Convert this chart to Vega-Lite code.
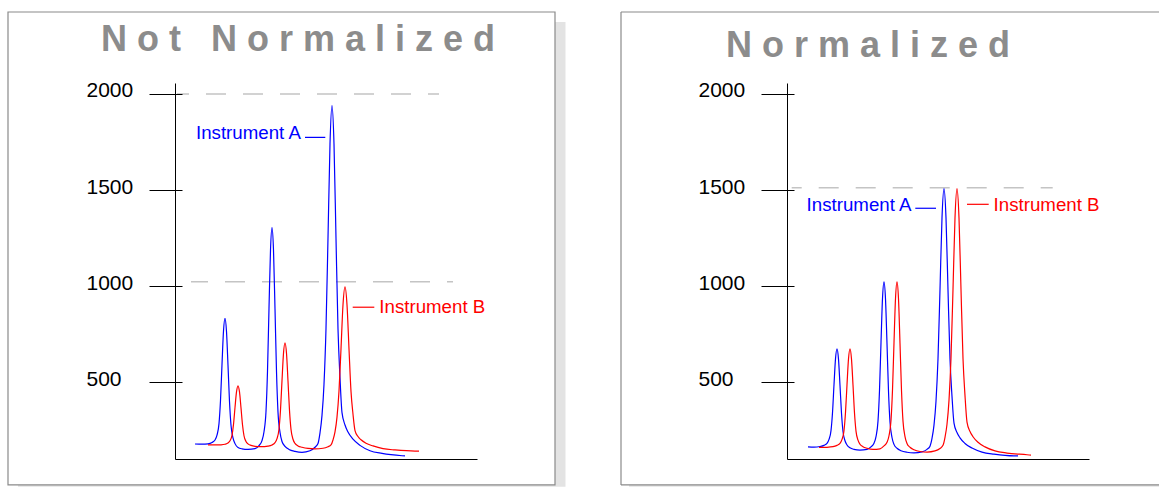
{
  "$schema": "https://vega.github.io/schema/vega-lite/v6.json",
  "padding": {"left": 7, "top": 11, "right": 0, "bottom": 0},
  "background": "white",
  "spacing": 310,
  "bounds": "flush",
  "config": {"view": {"stroke": null}, "font": "Liberation Sans"},
  "datasets": {
    "raw": [
      {"instrument":"A","time":20,"signal":178},{"instrument":"A","time":27,"signal":177},{"instrument":"A","time":33,"signal":179},{"instrument":"A","time":37,"signal":186},{"instrument":"A","time":40,"signal":199},{"instrument":"A","time":42,"signal":224},{"instrument":"A","time":44,"signal":284},{"instrument":"A","time":45.5,"signal":404},{"instrument":"A","time":47,"signal":592},{"instrument":"A","time":48.5,"signal":766},{"instrument":"A","time":50,"signal":832},{"instrument":"A","time":51.5,"signal":764},{"instrument":"A","time":53,"signal":588},{"instrument":"A","time":54.5,"signal":399},{"instrument":"A","time":56,"signal":276},{"instrument":"A","time":58,"signal":210},{"instrument":"A","time":60,"signal":180},{"instrument":"A","time":63,"signal":160},{"instrument":"A","time":67,"signal":153},{"instrument":"A","time":73,"signal":150},{"instrument":"A","time":80,"signal":154},{"instrument":"A","time":84,"signal":170},{"instrument":"A","time":87,"signal":196},{"instrument":"A","time":89,"signal":242},{"instrument":"A","time":91,"signal":347},{"instrument":"A","time":92.5,"signal":557},{"instrument":"A","time":94,"signal":884},{"instrument":"A","time":95.5,"signal":1187},{"instrument":"A","time":97,"signal":1304},{"instrument":"A","time":98.5,"signal":1187},{"instrument":"A","time":100,"signal":882},{"instrument":"A","time":101.5,"signal":555},{"instrument":"A","time":103,"signal":344},{"instrument":"A","time":105,"signal":239},{"instrument":"A","time":107,"signal":191},{"instrument":"A","time":110,"signal":166},{"instrument":"A","time":114,"signal":150},{"instrument":"A","time":120,"signal":140},{"instrument":"A","time":127,"signal":135},{"instrument":"A","time":135,"signal":143},{"instrument":"A","time":140,"signal":161},{"instrument":"A","time":143,"signal":181},{"instrument":"A","time":145,"signal":236},{"instrument":"A","time":147,"signal":327},{"instrument":"A","time":149,"signal":489},{"instrument":"A","time":151,"signal":779},{"instrument":"A","time":153,"signal":1251},{"instrument":"A","time":155,"signal":1739},{"instrument":"A","time":157,"signal":1939},{"instrument":"A","time":159,"signal":1739},{"instrument":"A","time":161,"signal":1249},{"instrument":"A","time":163,"signal":777},{"instrument":"A","time":165,"signal":523},{"instrument":"A","time":167,"signal":341},{"instrument":"A","time":170,"signal":277},{"instrument":"A","time":173,"signal":240},{"instrument":"A","time":178,"signal":203},{"instrument":"A","time":185,"signal":171},{"instrument":"A","time":195,"signal":143},{"instrument":"A","time":207,"signal":129},{"instrument":"A","time":227,"signal":117},{"instrument":"A","time":230,"signal":116},
      {"instrument":"B","time":33,"signal":174},{"instrument":"B","time":40,"signal":173},{"instrument":"B","time":46,"signal":174},{"instrument":"B","time":50,"signal":177},{"instrument":"B","time":53,"signal":183},{"instrument":"B","time":55,"signal":195},{"instrument":"B","time":57,"signal":223},{"instrument":"B","time":58.5,"signal":280},{"instrument":"B","time":60,"signal":368},{"instrument":"B","time":61.5,"signal":449},{"instrument":"B","time":63,"signal":481},{"instrument":"B","time":64.5,"signal":449},{"instrument":"B","time":66,"signal":366},{"instrument":"B","time":67.5,"signal":278},{"instrument":"B","time":69,"signal":221},{"instrument":"B","time":71,"signal":191},{"instrument":"B","time":73,"signal":179},{"instrument":"B","time":76,"signal":171},{"instrument":"B","time":80,"signal":166},{"instrument":"B","time":86,"signal":164},{"instrument":"B","time":93,"signal":167},{"instrument":"B","time":97,"signal":173},{"instrument":"B","time":100,"signal":185},{"instrument":"B","time":102,"signal":206},{"instrument":"B","time":104,"signal":256},{"instrument":"B","time":105.5,"signal":355},{"instrument":"B","time":107,"signal":508},{"instrument":"B","time":108.5,"signal":650},{"instrument":"B","time":110,"signal":705},{"instrument":"B","time":111.5,"signal":650},{"instrument":"B","time":113,"signal":506},{"instrument":"B","time":114.5,"signal":353},{"instrument":"B","time":116,"signal":254},{"instrument":"B","time":118,"signal":203},{"instrument":"B","time":120,"signal":181},{"instrument":"B","time":123,"signal":168},{"instrument":"B","time":127,"signal":161},{"instrument":"B","time":133,"signal":155},{"instrument":"B","time":140,"signal":153},{"instrument":"B","time":148,"signal":156},{"instrument":"B","time":153,"signal":164},{"instrument":"B","time":156,"signal":173},{"instrument":"B","time":158,"signal":199},{"instrument":"B","time":160,"signal":241},{"instrument":"B","time":162,"signal":318},{"instrument":"B","time":164,"signal":454},{"instrument":"B","time":166,"signal":673},{"instrument":"B","time":168,"signal":903},{"instrument":"B","time":170,"signal":996},{"instrument":"B","time":172,"signal":903},{"instrument":"B","time":174,"signal":673},{"instrument":"B","time":176,"signal":452},{"instrument":"B","time":178,"signal":333},{"instrument":"B","time":180,"signal":248},{"instrument":"B","time":183,"signal":217},{"instrument":"B","time":186,"signal":200},{"instrument":"B","time":191,"signal":182},{"instrument":"B","time":198,"signal":168},{"instrument":"B","time":208,"signal":154},{"instrument":"B","time":220,"signal":147},{"instrument":"B","time":240,"signal":141},{"instrument":"B","time":244,"signal":141}
    ],
    "norm": [
      {"instrument":"A","time":21,"signal":163},{"instrument":"A","time":27,"signal":162},{"instrument":"A","time":33,"signal":165},{"instrument":"A","time":37,"signal":171},{"instrument":"A","time":40,"signal":181},{"instrument":"A","time":42,"signal":202},{"instrument":"A","time":44,"signal":248},{"instrument":"A","time":45.5,"signal":341},{"instrument":"A","time":47,"signal":486},{"instrument":"A","time":48.5,"signal":621},{"instrument":"A","time":50,"signal":673},{"instrument":"A","time":51.5,"signal":620},{"instrument":"A","time":53,"signal":483},{"instrument":"A","time":54.5,"signal":338},{"instrument":"A","time":56,"signal":243},{"instrument":"A","time":58,"signal":195},{"instrument":"A","time":60,"signal":173},{"instrument":"A","time":63,"signal":158},{"instrument":"A","time":67,"signal":150},{"instrument":"A","time":73,"signal":146},{"instrument":"A","time":80,"signal":150},{"instrument":"A","time":84,"signal":163},{"instrument":"A","time":87,"signal":182},{"instrument":"A","time":89,"signal":217},{"instrument":"A","time":91,"signal":297},{"instrument":"A","time":92.5,"signal":457},{"instrument":"A","time":94,"signal":705},{"instrument":"A","time":95.5,"signal":935},{"instrument":"A","time":97,"signal":1022},{"instrument":"A","time":98.5,"signal":933},{"instrument":"A","time":100,"signal":701},{"instrument":"A","time":101.5,"signal":453},{"instrument":"A","time":103,"signal":293},{"instrument":"A","time":105,"signal":212},{"instrument":"A","time":107,"signal":176},{"instrument":"A","time":110,"signal":156},{"instrument":"A","time":114,"signal":143},{"instrument":"A","time":120,"signal":135},{"instrument":"A","time":127,"signal":132},{"instrument":"A","time":135,"signal":137},{"instrument":"A","time":140,"signal":150},{"instrument":"A","time":143,"signal":167},{"instrument":"A","time":145,"signal":207},{"instrument":"A","time":147,"signal":276},{"instrument":"A","time":149,"signal":401},{"instrument":"A","time":151,"signal":622},{"instrument":"A","time":153,"signal":982},{"instrument":"A","time":155,"signal":1355},{"instrument":"A","time":157,"signal":1507},{"instrument":"A","time":159,"signal":1355},{"instrument":"A","time":161,"signal":980},{"instrument":"A","time":163,"signal":620},{"instrument":"A","time":165,"signal":426},{"instrument":"A","time":167,"signal":287},{"instrument":"A","time":170,"signal":238},{"instrument":"A","time":173,"signal":210},{"instrument":"A","time":178,"signal":181},{"instrument":"A","time":185,"signal":157},{"instrument":"A","time":195,"signal":136},{"instrument":"A","time":207,"signal":125},{"instrument":"A","time":227,"signal":116},{"instrument":"A","time":231,"signal":116},
      {"instrument":"B","time":32,"signal":160},{"instrument":"B","time":40,"signal":161},{"instrument":"B","time":46,"signal":164},{"instrument":"B","time":50,"signal":171},{"instrument":"B","time":53,"signal":181},{"instrument":"B","time":55,"signal":202},{"instrument":"B","time":57,"signal":248},{"instrument":"B","time":58.5,"signal":342},{"instrument":"B","time":60,"signal":486},{"instrument":"B","time":61.5,"signal":621},{"instrument":"B","time":63,"signal":673},{"instrument":"B","time":64.5,"signal":620},{"instrument":"B","time":66,"signal":485},{"instrument":"B","time":67.5,"signal":339},{"instrument":"B","time":69,"signal":245},{"instrument":"B","time":71,"signal":198},{"instrument":"B","time":73,"signal":177},{"instrument":"B","time":76,"signal":164},{"instrument":"B","time":80,"signal":156},{"instrument":"B","time":86,"signal":150},{"instrument":"B","time":93,"signal":153},{"instrument":"B","time":97,"signal":168},{"instrument":"B","time":100,"signal":187},{"instrument":"B","time":102,"signal":221},{"instrument":"B","time":104,"signal":301},{"instrument":"B","time":105.5,"signal":459},{"instrument":"B","time":107,"signal":705},{"instrument":"B","time":108.5,"signal":934},{"instrument":"B","time":110,"signal":1022},{"instrument":"B","time":111.5,"signal":934},{"instrument":"B","time":113,"signal":703},{"instrument":"B","time":114.5,"signal":457},{"instrument":"B","time":116,"signal":297},{"instrument":"B","time":118,"signal":217},{"instrument":"B","time":120,"signal":181},{"instrument":"B","time":123,"signal":161},{"instrument":"B","time":127,"signal":148},{"instrument":"B","time":133,"signal":139},{"instrument":"B","time":140,"signal":136},{"instrument":"B","time":148,"signal":142},{"instrument":"B","time":153,"signal":155},{"instrument":"B","time":156,"signal":171},{"instrument":"B","time":158,"signal":213},{"instrument":"B","time":160,"signal":281},{"instrument":"B","time":162,"signal":405},{"instrument":"B","time":164,"signal":625},{"instrument":"B","time":166,"signal":984},{"instrument":"B","time":168,"signal":1355},{"instrument":"B","time":170,"signal":1507},{"instrument":"B","time":172,"signal":1355},{"instrument":"B","time":174,"signal":982},{"instrument":"B","time":176,"signal":623},{"instrument":"B","time":178,"signal":430},{"instrument":"B","time":180,"signal":292},{"instrument":"B","time":183,"signal":243},{"instrument":"B","time":186,"signal":216},{"instrument":"B","time":191,"signal":187},{"instrument":"B","time":198,"signal":163},{"instrument":"B","time":208,"signal":142},{"instrument":"B","time":220,"signal":131},{"instrument":"B","time":240,"signal":122},{"instrument":"B","time":244,"signal":120}
    ]
  },
  "hconcat": [
    {
      "width": 302,
      "height": 376,
      "layer": [
        {"data": {"values": [{}]}, "mark": {"type": "rect", "fill": "#e3e3e3"},
         "encoding": {"x": {"datum": -157, "type": "quantitative"}, "x2": {"datum": 390.5}, "y": {"datum": 2374.5, "type": "quantitative"}, "y2": {"datum": -45}}},
        {"data": {"values": [{}]}, "mark": {"type": "rect", "fill": "white", "stroke": "#8a8a8a", "strokeWidth": 1.2},
         "encoding": {"x": {"datum": -167, "type": "quantitative"}, "x2": {"datum": 380}, "y": {"datum": 2426.5, "type": "quantitative"}, "y2": {"datum": -35}}},
        {"data": {"values": [{}]}, "mark": {"type": "rule", "stroke": "#c4c4c4", "strokeWidth": 1.5, "strokeDash": [20, 17], "strokeDashOffset": 8},
         "encoding": {"x": {"datum": 2, "type": "quantitative"}, "x2": {"datum": 264}, "y": {"datum": 2000, "type": "quantitative"}}},
        {"data": {"values": [{}]}, "mark": {"type": "rule", "stroke": "#c4c4c4", "strokeWidth": 1.5, "strokeDash": [20, 17], "strokeDashOffset": 3},
         "encoding": {"x": {"datum": 16, "type": "quantitative"}, "x2": {"datum": 278}, "y": {"datum": 1023, "type": "quantitative"}}},
        {"data": {"name": "raw"}, "mark": {"type": "line", "strokeWidth": 1.2, "interpolate": "monotone"},
         "encoding": {
           "x": {"field": "time", "type": "quantitative", "scale": {"domain": [0, 302], "nice": false, "zero": false},
                 "axis": {"title": null, "domain": true, "domainColor": "#000000", "domainWidth": 1, "ticks": false, "labels": false, "grid": false, "zindex": 1}},
           "y": {"field": "signal", "type": "quantitative", "scale": {"domain": [100, 2057], "nice": false, "zero": false},
                 "axis": {"title": null, "values": [500, 1000, 1500, 2000], "format": "d", "domain": true, "domainColor": "#000000", "domainWidth": 1, "ticks": true, "tickSize": 26, "tickColor": "#000000", "tickWidth": 1, "grid": true, "gridColor": "#000000", "gridWidth": 1, "gridDash": [7, 2000], "labelAlign": "left", "labelBaseline": "alphabetic", "labelPadding": 63, "labelOffset": 3, "labelFontSize": 21, "labelFont": "Liberation Sans", "labelColor": "#000000", "labelOverlap": false, "zindex": 1}},
           "color": {"field": "instrument", "type": "nominal", "scale": {"domain": ["A", "B"], "range": ["#0000ff", "#ff0000"]}, "legend": null}
         }},
        {"data": {"values": [{}]}, "mark": {"type": "rule", "stroke": "#0000ff", "strokeWidth": 1.2},
         "encoding": {"x": {"datum": 130, "type": "quantitative"}, "x2": {"datum": 150.3}, "y": {"datum": 1774, "type": "quantitative"}}},
        {"data": {"values": [{}]}, "mark": {"type": "rule", "stroke": "#ff0000", "strokeWidth": 1.2},
         "encoding": {"x": {"datum": 177.7, "type": "quantitative"}, "x2": {"datum": 199.3}, "y": {"datum": 890, "type": "quantitative"}}},
        {"data": {"values": [{}]}, "mark": {"type": "text", "text": "Instrument A", "align": "left", "baseline": "alphabetic", "fontSize": 18.7, "font": "Liberation Sans", "color": "#0000ff"},
         "encoding": {"x": {"datum": 21, "type": "quantitative"}, "y": {"datum": 1765.5, "type": "quantitative"}}},
        {"data": {"values": [{}]}, "mark": {"type": "text", "text": "Instrument B", "align": "left", "baseline": "alphabetic", "fontSize": 18.7, "font": "Liberation Sans", "color": "#ff0000"},
         "encoding": {"x": {"datum": 204.3, "type": "quantitative"}, "y": {"datum": 858, "type": "quantitative"}}},
        {"data": {"values": [{}]}, "mark": {"type": "text", "text": "N o t\u00a0\u00a0\u00a0N o r m a l i z e d", "align": "left", "baseline": "alphabetic", "fontSize": 36, "fontWeight": "bold", "font": "Liberation Sans", "color": "#8c8c8c"},
         "encoding": {"x": {"datum": -74, "type": "quantitative"}, "y": {"datum": 2223.5, "type": "quantitative"}}}
      ]
    },
    {
      "width": 302,
      "height": 376,
      "layer": [
        {"data": {"values": [{}]}, "mark": {"type": "rect", "fill": "#e3e3e3"},
         "encoding": {"x": {"datum": -158, "type": "quantitative"}, "x2": {"datum": 372}, "y": {"datum": 2374.5, "type": "quantitative"}, "y2": {"datum": -45}}},
        {"data": {"values": [{}]}, "mark": {"type": "rect", "fill": "white"},
         "encoding": {"x": {"datum": -166, "type": "quantitative"}, "x2": {"datum": 372}, "y": {"datum": 2426.5, "type": "quantitative"}, "y2": {"datum": -35}}},
        {"data": {"values": [{}]}, "mark": {"type": "rule", "stroke": "#8a8a8a", "strokeWidth": 1.2},
         "encoding": {"x": {"datum": -166, "type": "quantitative"}, "x2": {"datum": 372}, "y": {"datum": 2426.5, "type": "quantitative"}}},
        {"data": {"values": [{}]}, "mark": {"type": "rule", "stroke": "#8a8a8a", "strokeWidth": 1.2},
         "encoding": {"x": {"datum": -166, "type": "quantitative"}, "x2": {"datum": 372}, "y": {"datum": -35, "type": "quantitative"}}},
        {"data": {"values": [{}]}, "mark": {"type": "rule", "stroke": "#8a8a8a", "strokeWidth": 1.2},
         "encoding": {"x": {"datum": -166, "type": "quantitative"}, "y": {"datum": 2426.5, "type": "quantitative"}, "y2": {"datum": -35}}},
        {"data": {"values": [{}]}, "mark": {"type": "rule", "stroke": "#c4c4c4", "strokeWidth": 1.5, "strokeDash": [20, 17], "strokeDashOffset": 10},
         "encoding": {"x": {"datum": 4.7, "type": "quantitative"}, "x2": {"datum": 265.7}, "y": {"datum": 1512, "type": "quantitative"}}},
        {"data": {"name": "norm"}, "mark": {"type": "line", "strokeWidth": 1.2, "interpolate": "monotone"},
         "encoding": {
           "x": {"field": "time", "type": "quantitative", "scale": {"domain": [0, 302], "nice": false, "zero": false},
                 "axis": {"title": null, "domain": true, "domainColor": "#000000", "domainWidth": 1, "ticks": false, "labels": false, "grid": false, "zindex": 1}},
           "y": {"field": "signal", "type": "quantitative", "scale": {"domain": [100, 2057], "nice": false, "zero": false},
                 "axis": {"title": null, "values": [500, 1000, 1500, 2000], "format": "d", "domain": true, "domainColor": "#000000", "domainWidth": 1, "ticks": true, "tickSize": 26, "tickColor": "#000000", "tickWidth": 1, "grid": true, "gridColor": "#000000", "gridWidth": 1, "gridDash": [7, 2000], "labelAlign": "left", "labelBaseline": "alphabetic", "labelPadding": 63, "labelOffset": 3, "labelFontSize": 21, "labelFont": "Liberation Sans", "labelColor": "#000000", "labelOverlap": false, "zindex": 1}},
           "color": {"field": "instrument", "type": "nominal", "scale": {"domain": ["A", "B"], "range": ["#0000ff", "#ff0000"]}, "legend": null}
         }},
        {"data": {"values": [{}]}, "mark": {"type": "rule", "stroke": "#0000ff", "strokeWidth": 1.2},
         "encoding": {"x": {"datum": 128.3, "type": "quantitative"}, "x2": {"datum": 149}, "y": {"datum": 1405, "type": "quantitative"}}},
        {"data": {"values": [{}]}, "mark": {"type": "rule", "stroke": "#ff0000", "strokeWidth": 1.2},
         "encoding": {"x": {"datum": 180, "type": "quantitative"}, "x2": {"datum": 201.7}, "y": {"datum": 1425.6, "type": "quantitative"}}},
        {"data": {"values": [{}]}, "mark": {"type": "text", "text": "Instrument A", "align": "left", "baseline": "alphabetic", "fontSize": 18.7, "font": "Liberation Sans", "color": "#0000ff"},
         "encoding": {"x": {"datum": 19.6, "type": "quantitative"}, "y": {"datum": 1390.8, "type": "quantitative"}}},
        {"data": {"values": [{}]}, "mark": {"type": "text", "text": "Instrument B", "align": "left", "baseline": "alphabetic", "fontSize": 18.7, "font": "Liberation Sans", "color": "#ff0000"},
         "encoding": {"x": {"datum": 206.6, "type": "quantitative"}, "y": {"datum": 1390.8, "type": "quantitative"}}},
        {"data": {"values": [{}]}, "mark": {"type": "text", "text": "N o r m a l i z e d", "align": "left", "baseline": "alphabetic", "fontSize": 36, "fontWeight": "bold", "font": "Liberation Sans", "color": "#8c8c8c"},
         "encoding": {"x": {"datum": -61, "type": "quantitative"}, "y": {"datum": 2194, "type": "quantitative"}}}
      ]
    }
  ]
}
